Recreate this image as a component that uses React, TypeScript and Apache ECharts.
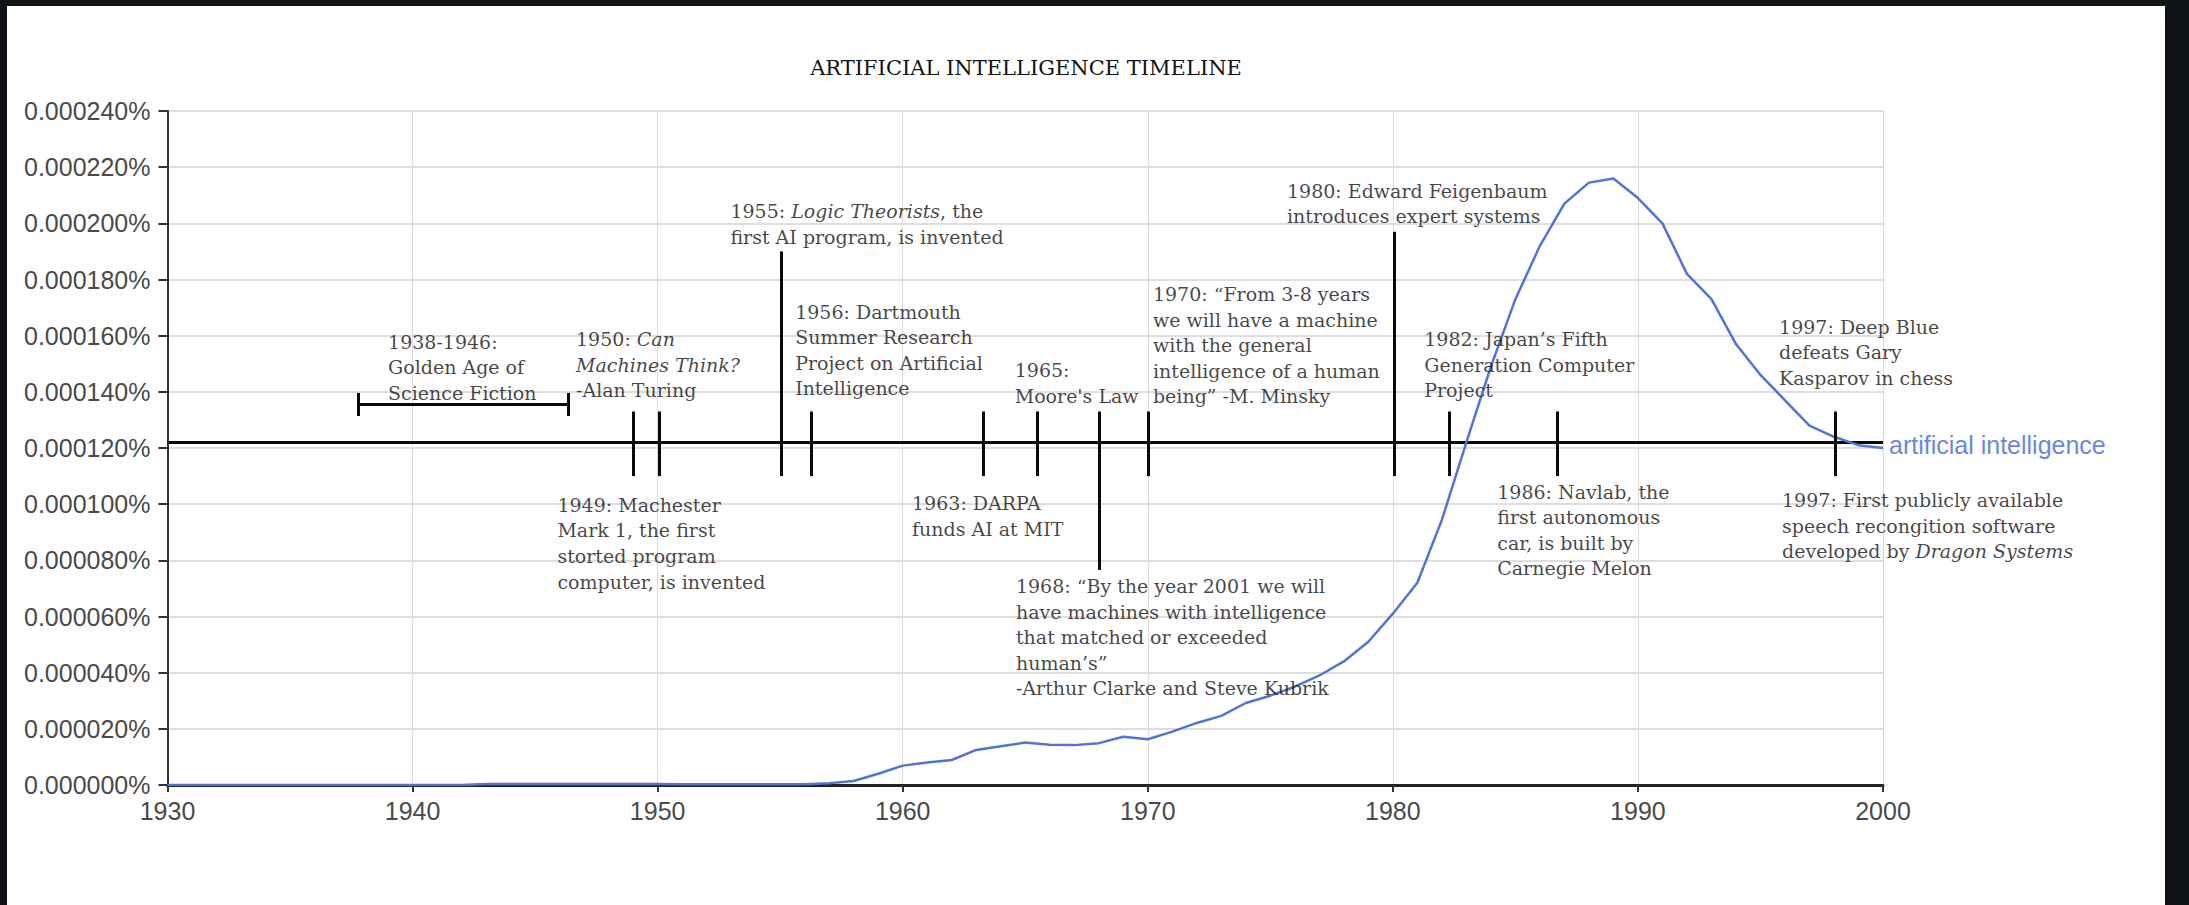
import React, { useEffect, useRef } from 'react';
import * as echarts from 'echarts';

// ---- data ----
const startYear = 1930;
const years: number[] = Array.from({ length: 71 }, (_, i) => startYear + i);
// share of "artificial intelligence" (percent), 1930..2000
const aiShare: number[] = [
  0, 0, 0, 0, 0, 0, 0, 0, 0, 0, // 1930-1939
  0, 0, 0, 0.0000004, 0.0000004, 0.0000004, 0.0000004, 0.0000004, 0.0000004, 0.0000004, // 1940-1949
  0.0000004, 0.0000003, 0.0000003, 0.0000003, 0.0000003, 0.0000003, 0.0000003, 0.0000006, 0.0000014, 0.000004, // 1950-1959
  0.0000069, 0.000008, 0.0000089, 0.0000125, 0.0000138, 0.0000151, 0.0000143, 0.0000142, 0.0000149, 0.0000172, // 1960-1969
  0.0000163, 0.000019, 0.0000221, 0.0000246, 0.0000292, 0.0000318, 0.000035, 0.000039, 0.000044, 0.000051, // 1970-1979
  0.000061, 0.000072, 0.0000944, 0.000122, 0.000149, 0.000173, 0.000192, 0.000207, 0.0002145, 0.000216, // 1980-1989
  0.000209, 0.0002, 0.000182, 0.000173, 0.000157, 0.000146, 0.000137, 0.000128, 0.000124, 0.000121, // 1990-1999
  0.00012, // 2000
];

const seriesName = 'artificial intelligence';
const titleText = 'ARTIFICIAL INTELLIGENCE TIMELINE';

// timeline
const timelineValue = 0.000122;
const tickYears: number[] = [1949, 1950.07, 1955.06, 1956.26, 1963.3, 1965.5, 1968, 1970.03, 1980.05, 1982.3, 1986.7, 1998.04];
const tickTops: number[] = [0.000133, 0.000133, 0.00019, 0.000133, 0.000133, 0.000133, 0.000133, 0.000133, 0.000197, 0.000133, 0.000133, 0.000133];
const tickBottoms: number[] = [0.00011, 0.00011, 0.00011, 0.00011, 0.00011, 0.00011, 0.0000766, 0.00011, 0.00011, 0.00011, 0.00011, 0.00011];
const bracketYears: number[] = [1937.8, 1946.35];
const bracketValue = 0.0001357;
const bracketCap: number[] = [0.0001314, 0.0001396];

// annotation texts, anchored (top-left) at [year, value]
const noteYears: number[] = [1939.0, 1946.67, 1945.91, 1952.97, 1955.61, 1964.57, 1970.21, 1975.68, 1960.38, 1964.62, 1981.28, 1984.26, 1995.76, 1995.88];
const noteValues: number[] = [0.0001624, 0.0001633, 0.0001043, 0.0002089, 0.0001731, 0.0001523, 0.0001794, 0.0002162, 0.0001049, 0.0000754, 0.0001633, 0.000109, 0.0001677, 0.000106];
const noteTexts: string[] = [
  '1938-1946:\nGolden Age of\nScience Fiction',
  '1950: {i|Can}\n{i|Machines Think?}\n-Alan Turing',
  '1949: Machester\nMark 1, the first\nstorted program\ncomputer, is invented',
  '1955: {i|Logic Theorists}, the\nfirst AI program, is invented',
  '1956: Dartmouth\nSummer Research\nProject on Artificial\nIntelligence',
  '1965:\nMoore\'s Law',
  '1970: \u201cFrom 3-8 years\nwe will have a machine\nwith the general\nintelligence of a human\nbeing\u201d -M. Minsky',
  '1980: Edward Feigenbaum\nintroduces expert systems',
  '1963: DARPA\nfunds AI at MIT',
  '1968: \u201cBy the year 2001 we will\nhave machines with intelligence\nthat matched or exceeded\nhuman\u2019s\u201d\n-Arthur Clarke and Steve Kubrik',
  '1982: Japan\u2019s Fifth\nGeneration Computer\nProject',
  '1986: Navlab, the\nfirst autonomous\ncar, is built by\nCarnegie Melon',
  '1997: Deep Blue\ndefeats Gary\nKasparov in chess',
  '1997: First publicly available\nspeech recongition software\ndeveloped by {i|Dragon Systems}',
];

// ---- styles ----
const SERIF = '"DejaVu Serif", Georgia, serif';
const SANS = '"Liberation Sans", Arial, sans-serif';
const noteColor = '#141414';
const noteSize = 19;
const noteLH = 25.6;

export default function App() {
  const ref = useRef<HTMLDivElement>(null);

  useEffect(() => {
    if (!ref.current) return;
    const chart = echarts.init(ref.current, null, { renderer: 'svg' });

    const lineData = years.map((y, i) => [y, aiShare[i]]);

    const segs: any[] = [];
    tickYears.forEach((y, i) => {
      segs.push([{ coord: [y, tickBottoms[i]] }, { coord: [y, tickTops[i]] }]);
    });
    segs.push([{ coord: [bracketYears[0], bracketValue] }, { coord: [bracketYears[1], bracketValue] }]);
    bracketYears.forEach((y) => {
      segs.push([{ coord: [y, bracketCap[0]] }, { coord: [y, bracketCap[1]] }]);
    });

    const noteData = noteYears.map((y, i) => ({
      value: [y, noteValues[i]],
      label: { formatter: noteTexts[i] },
    }));

    const option: any = {
      animation: false,
      backgroundColor: '#ffffff',
      title: {
        text: titleText,
        left: 1026,
        top: 56,
        textAlign: 'center',
        padding: 0,
        textStyle: { fontFamily: SERIF, fontSize: 21, fontWeight: 'normal', color: '#111', lineHeight: 24 },
      },
      graphic: [
        { type: 'rect', silent: true, z: 100, shape: { x: 0, y: 0, width: 2189, height: 6 }, style: { fill: '#0f1216' } },
        { type: 'rect', silent: true, z: 100, shape: { x: 0, y: 0, width: 7, height: 905 }, style: { fill: '#0f1216' } },
        { type: 'rect', silent: true, z: 100, shape: { x: 2165, y: 0, width: 24, height: 905 }, style: { fill: '#0f1216' } },
      ],
      grid: { left: 167.5, right: 306, top: 111, bottom: 120, containLabel: false },
      xAxis: {
        type: 'value',
        min: 1930,
        max: 2000,
        interval: 10,
        axisLine: { show: true, onZero: false, lineStyle: { color: '#222', width: 3 } },
        axisTick: { show: true, length: 7, lineStyle: { color: '#333', width: 2 } },
        axisLabel: { fontFamily: SANS, fontSize: 25, color: '#4a4a4a', margin: 13, formatter: (v: number) => String(v) },
        splitLine: { show: true, lineStyle: { color: '#dcdcdc', width: 1 } },
      },
      yAxis: {
        type: 'value',
        min: 0,
        max: 0.00024,
        interval: 0.00002,
        axisLine: { show: true, lineStyle: { color: '#333', width: 2 } },
        axisTick: { show: true, length: 9, lineStyle: { color: '#333', width: 2 } },
        axisLabel: {
          fontFamily: SANS,
          fontSize: 25,
          color: '#4a4a4a',
          margin: 17,
          formatter: (v: number) => v.toFixed(6) + '%',
        },
        splitLine: { show: true, lineStyle: { color: '#dedede', width: 2 } },
      },
      series: [
        {
          name: 'timeline',
          type: 'line',
          silent: true,
          symbol: 'none',
          z: 2,
          data: [[1930, timelineValue], [2000, timelineValue]],
          lineStyle: { color: '#0a0a0a', width: 3 },
          markLine: {
            silent: true,
            symbol: ['none', 'none'],
            label: { show: false },
            lineStyle: { color: '#0a0a0a', width: 3, type: 'solid' },
            emphasis: { disabled: true },
            data: segs,
          },
        },
        {
          name: seriesName,
          type: 'line',
          symbol: 'none',
          z: 3,
          data: lineData,
          lineStyle: { color: '#5274d3', width: 2.5 },
          endLabel: {
            show: true,
            formatter: seriesName,
            color: '#6a88dc',
            fontFamily: SANS,
            fontSize: 25,
            distance: 6,
            offset: [0, -3],
          },
        },
        {
          name: 'notes',
          type: 'scatter',
          silent: true,
          symbolSize: 0,
          z: 5,
          clip: false,
          data: noteData,
          label: {
            show: true,
            position: [0, 0],
            align: 'left',
            verticalAlign: 'top',
            fontFamily: SERIF,
            fontSize: noteSize,
            lineHeight: noteLH,
            color: noteColor,
            rich: {
              i: { fontFamily: SERIF, fontSize: noteSize, lineHeight: noteLH, color: noteColor, fontStyle: 'italic' },
            },
          },
        },
      ],
    };

    chart.setOption(option);
    return () => chart.dispose();
  }, []);

  return (
    <div
      ref={ref}
      style={{ position: 'absolute', left: 0, top: 0, width: 2189, height: 905, background: '#fff' }}
    />
  );
}
